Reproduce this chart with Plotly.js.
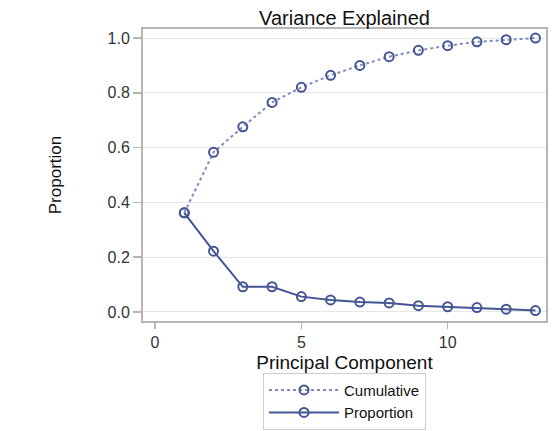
<!DOCTYPE html>
<html>
<head>
<meta charset="utf-8">
<script src="https://cdn.plot.ly/plotly-3.0.1.min.js"></script>
<style>
  html, body { margin: 0; padding: 0; background: #ffffff; }
  #chart { width: 553px; height: 431px; }
</style>
</head>
<body>
<div id="chart"></div>
<script>
const components = [1, 2, 3, 4, 5, 6, 7, 8, 9, 10, 11, 12, 13];
const proportion = [0.362, 0.222, 0.092, 0.092, 0.056, 0.044, 0.036, 0.033, 0.023, 0.019, 0.016, 0.010, 0.005];
const cumulative = [0.362, 0.583, 0.676, 0.765, 0.820, 0.864, 0.900, 0.932, 0.955, 0.972, 0.986, 0.994, 1.000];
const xTicks = [0, 5, 10];
const yTicks = [0.0, 0.2, 0.4, 0.6, 0.8, 1.0];
const seriesNames = ["Cumulative", "Proportion"];

const color = "#445694";
const font = "Liberation Sans, Arial, sans-serif";

const traces = [
  {
    x: components, y: cumulative, name: seriesNames[0],
    type: "scatter", mode: "lines+markers",
    line: { color: "#7d8dbf", width: 2, dash: "dot" },
    marker: { symbol: "circle-open", size: 9, color: color, line: { width: 2, color: color } }
  },
  {
    x: components, y: proportion, name: seriesNames[1],
    type: "scatter", mode: "lines+markers",
    line: { color: color, width: 2 },
    marker: { symbol: "circle-open", size: 9, color: color, line: { width: 2, color: color } }
  }
];

const layout = {
  width: 553, height: 431,
  margin: { l: 143, r: 7, t: 29, b: 110 },
  paper_bgcolor: "#ffffff", plot_bgcolor: "#ffffff",
  font: { family: font, color: "#333333", size: 15 },
  title: { text: "Variance Explained", font: { family: font, size: 20, color: "#111111" },
           x: 0.5, xanchor: "center", xref: "paper", yref: "container", y: 0.958, yanchor: "middle" },
  xaxis: {
    range: [-0.41, 13.36], tickvals: xTicks, ticktext: xTicks.map(String),
    showgrid: false, zeroline: false,
    showline: true, mirror: true, linecolor: "#b5b5b5", linewidth: 2,
    ticks: "outside", ticklen: 6, tickcolor: "#b5b5b5", tickwidth: 1.5,
    tickfont: { size: 16, color: "#333333" },
    title: { text: "Principal Component", font: { size: 19, color: "#111111" }, standoff: 30 },
    automargin: false
  },
  yaxis: {
    range: [-0.033, 1.033], tickvals: yTicks, ticktext: yTicks.map(v => v.toFixed(1)),
    showgrid: true, gridcolor: "#e6e6e6", gridwidth: 1, zeroline: false,
    showline: true, mirror: true, linecolor: "#b5b5b5", linewidth: 2,
    ticks: "outside", ticklen: 8, tickcolor: "#b5b5b5", tickwidth: 1.5,
    tickfont: { size: 16, color: "#333333" },
    title: { text: "Proportion", font: { size: 17, color: "#111111" }, standoff: 42 },
    automargin: false
  },
  legend: {
    orientation: "v", x: 0.5, xanchor: "center", xref: "paper",
    yref: "container", y: 0.003, yanchor: "bottom",
    bordercolor: "#cccccc", borderwidth: 1, bgcolor: "#ffffff",
    font: { size: 15, color: "#111111" }, tracegroupgap: 0, itemwidth: 70
  },
  showlegend: true
};

Plotly.newPlot("chart", traces, layout, { staticPlot: true, displayModeBar: false });
</script>
</body>
</html>
